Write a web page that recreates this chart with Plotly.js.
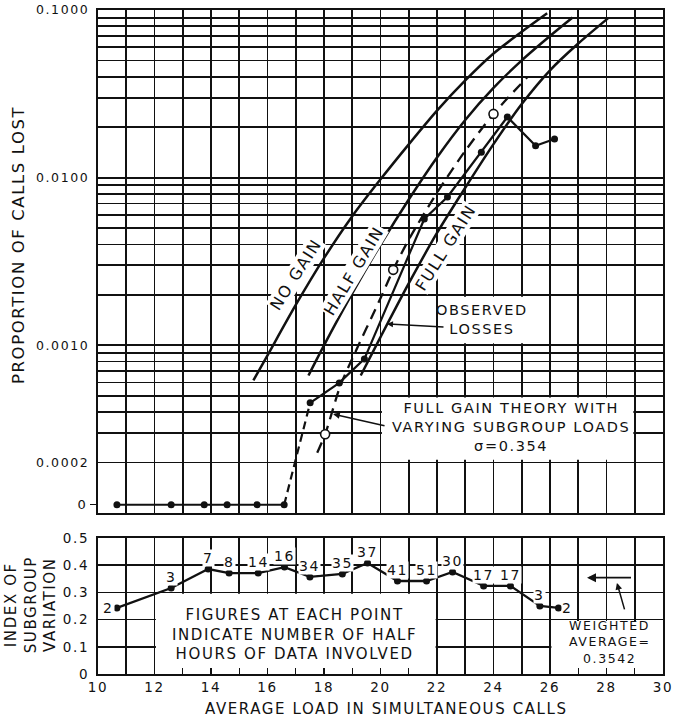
<!DOCTYPE html>
<html><head><meta charset="utf-8">
<script src="https://cdn.plot.ly/plotly-3.0.1.min.js"></script>
<style>
html,body{margin:0;padding:0;background:#fff;}
#chart{width:677px;height:717px;}
svg text{letter-spacing:1.6px;}
</style></head><body><div id="chart"></div>
<script>
// ---------- DATA ----------
// Top panel: proportion of calls lost vs average load (simultaneous calls)
const noGainLoad = [15.5, 16, 17, 18, 19, 20, 21, 22, 23, 24, 25, 25.9];
const noGainLost = [0.000617, 0.000871, 0.00174, 0.00331, 0.00589, 0.00977, 0.0158, 0.0251, 0.0380, 0.0550, 0.0741, 0.0955];
const halfGainLoad = [17.45, 18, 19, 20, 21, 22, 23, 24, 25, 26, 26.8];
const halfGainLost = [0.000661, 0.00100, 0.00204, 0.00398, 0.00741, 0.0132, 0.0221, 0.0343, 0.0501, 0.0700, 0.0902];
const fullGainLoad = [19.3, 20, 21, 22, 23, 24, 25, 26, 27, 28.05];
const fullGainLost = [0.000661, 0.00112, 0.00234, 0.00468, 0.00871, 0.01585, 0.0275, 0.0437, 0.0631, 0.0891];
// Full gain theory with varying subgroup loads (sigma = 0.354)
const varyLoad = [17.76, 18.04, 18.58, 19, 20, 20.45, 21, 22, 23, 24, 25.2];
const varyLost = [0.000229, 0.000295, 0.000575, 0.000832, 0.00191, 0.00282, 0.00427, 0.00813, 0.01445, 0.0240, 0.0398];
const varyPtLoad = [18.04, 20.45, 24.0];
const varyPtLost = [0.000295, 0.00282, 0.0240];
// Observed losses
const obsLoad = [10.67, 12.59, 13.76, 14.57, 15.63, 16.59, 17.51, 18.54, 19.43, 21.55, 22.37, 23.57, 24.49, 25.49, 26.16];
const obsLost = [0, 0, 0, 0, 0, 0, 0.000454, 0.000597, 0.00083, 0.00567, 0.00767, 0.0142, 0.0230, 0.0155, 0.0170];
// Bottom panel: index of subgroup variation
const idxLoad = [10.67, 12.59, 13.9, 14.64, 15.67, 16.6, 17.5, 18.65, 19.54, 20.6, 21.63, 22.55, 23.65, 24.6, 25.64, 26.3];
const idxValue = [0.243, 0.316, 0.386, 0.371, 0.371, 0.393, 0.357, 0.368, 0.408, 0.342, 0.342, 0.375, 0.324, 0.324, 0.250, 0.243];
const halfHours = ['2', '3', '7', '8', '14', '16', '34', '35', '37', '41', '51', '30', '17', '17', '3', '2'];
const WEIGHTED_AVG = 0.3542;
// Tick labels
const loadTickVals = [10, 12, 14, 16, 18, 20, 22, 24, 26, 28, 30];
const lostTickVals = [0.1, 0.01, 0.001, 0.0002];
const lostTickText = ['0.1000', '0.0100', '0.0010', '0.0002'];
const idxTickVals = [0, 0.1, 0.2, 0.3, 0.4, 0.5];
const idxTickText = ['0', '0.1', '0.2', '0.3', '0.4', '0.5'];

// ---------- STYLE / LAYOUT ----------
const FONT = 'DejaVu Sans, Verdana, sans-serif';
const INK = '#111';
const ZERO_POS = 1.12e-4;        // where "0" is drawn on the log axis
const labelSide = ['left','above','above','above','above','above','above','above','above','above','above','above','above','above','above','right'];

// grid positions
const loadGrid = []; for (let v = 10; v <= 30; v++) loadGrid.push(v);
const loadText = loadGrid.map(v => loadTickVals.includes(v) ? String(v) : '');
const lostGrid = [];
[1e-4, 1e-3, 1e-2].forEach(d => { for (let m = 1; m <= 9; m++) lostGrid.push(+(m * d).toPrecision(3)); });
lostGrid.push(0.1);
const lostText = lostGrid.map(v => { const i = lostTickVals.findIndex(t => Math.abs(t - v) / v < 1e-6); return i >= 0 ? lostTickText[i] : ''; });

const zeroIdx = obsLost.map((v, i) => v === 0 ? i : -1).filter(i => i >= 0);
const nzIdx = obsLost.map((v, i) => v > 0 ? i : -1).filter(i => i >= 0);
const lastZero = zeroIdx[zeroIdx.length - 1], firstNz = nzIdx[0];

const curve = (x, y, extra) => Object.assign({type:'scatter', mode:'lines', x, y, xaxis:'x', yaxis:'y',
  line:{color:INK, width:2.5, shape:'spline', smoothing:0.8}, hoverinfo:'skip'}, extra || {});

const traces = [
  curve(noGainLoad, noGainLost),
  curve(halfGainLoad, halfGainLost),
  curve(fullGainLoad, fullGainLost),
  curve(varyLoad, varyLost, {line:{color:INK, width:2.3, dash:'11px,7px', shape:'spline', smoothing:0.8}}),
  {type:'scatter', mode:'markers', x:varyPtLoad, y:varyPtLost, xaxis:'x', yaxis:'y',
    marker:{size:9, color:'#fff', line:{color:INK, width:1.6}}},
  // observed: zero part
  {type:'scatter', mode:'lines+markers', x:zeroIdx.map(i => obsLoad[i]), y:zeroIdx.map(() => ZERO_POS), xaxis:'x', yaxis:'y2',
    line:{color:INK, width:2.2}, marker:{size:7, color:INK}},
  // observed: dashed rise from zero
  {type:'scatter', mode:'lines', x:[obsLoad[lastZero], obsLoad[firstNz]], y:[ZERO_POS, obsLost[firstNz]], xaxis:'x', yaxis:'y',
    line:{color:INK, width:2.2, dash:'8px,5px'}},
  // observed: non-zero part
  {type:'scatter', mode:'lines+markers', x:nzIdx.map(i => obsLoad[i]), y:nzIdx.map(i => obsLost[i]), xaxis:'x', yaxis:'y',
    line:{color:INK, width:2.2}, marker:{size:7, color:INK}},
  // bottom panel
  {type:'scatter', mode:'lines+markers', x:idxLoad, y:idxValue, xaxis:'x2', yaxis:'y3',
    line:{color:INK, width:2.3}, marker:{size:7, color:INK}}
];

const lg = Math.log10;
const ann = [
  {xref:'paper', yref:'paper', x:-0.1416, y:0.646, text:'PROPORTION OF CALLS LOST', textangle:-90, showarrow:false,
    font:{size:16.5}, xanchor:'center', yanchor:'middle'},
  {xref:'paper', yref:'paper', x:-0.118, y:0.104, text:'INDEX OF<br>SUBGROUP<br>VARIATION', textangle:-90, showarrow:false,
    font:{size:15}, xanchor:'center', yanchor:'middle'},
  {xref:'paper', yref:'paper', x:0.5115, y:-0.0525, text:'AVERAGE LOAD IN SIMULTANEOUS CALLS', showarrow:false,
    font:{size:15}, xanchor:'center', yanchor:'middle'},
  {xref:'x', yref:'y', x:17.01, y:lg(0.00263), text:'NO GAIN', textangle:-57.5, showarrow:false, font:{size:16}, bgcolor:'#fff', borderpad:0},
  {xref:'x', yref:'y', x:19.06, y:lg(0.00281), text:'HALF GAIN', textangle:-59, showarrow:false, font:{size:16}, bgcolor:'#fff', borderpad:0},
  {xref:'x', yref:'y', x:22.32, y:lg(0.00381), text:'FULL GAIN', textangle:-57.5, showarrow:false, font:{size:16}, bgcolor:'#fff', borderpad:0},
  {xref:'x', yref:'y', x:23.59, y:lg(0.00142), text:'OBSERVED<br>LOSSES', showarrow:false, font:{size:14.5}},
  {xref:'x', yref:'y', x:24.62, y:lg(0.000326), text:'FULL GAIN THEORY WITH<br>VARYING SUBGROUP LOADS<br>σ=0.354', showarrow:false, font:{size:14.5}},
  // leaders
  {xref:'x', yref:'y', x:20.23, y:lg(0.00134), ax:58, ay:3, text:'', showarrow:true, arrowhead:2, arrowsize:0.8, arrowwidth:1.5, arrowcolor:INK},
  {xref:'x', yref:'y', x:18.32, y:lg(0.000389), ax:53, ay:12, text:'', showarrow:true, arrowhead:2, arrowsize:0.9, arrowwidth:1.5, arrowcolor:INK},
  // bottom panel texts
  {xref:'x2', yref:'y3', x:16.97, y:0.147, text:'FIGURES AT EACH POINT<br>INDICATE NUMBER OF HALF<br>HOURS OF DATA INVOLVED', showarrow:false, font:{size:15}},
  {xref:'x2', yref:'y3', x:28.12, y:0.180, text:'WEIGHTED', showarrow:false, font:{size:12.5}},
  {xref:'x2', yref:'y3', x:28.12, y:0.1195, text:'AVERAGE=', showarrow:false, font:{size:12.5}},
  {xref:'x2', yref:'y3', x:28.1, y:0.0585, text:WEIGHTED_AVG.toFixed(4), showarrow:false, font:{size:12.5}},
  {xref:'x2', yref:'y3', x:27.31, y:WEIGHTED_AVG, ax:28.92, ay:WEIGHTED_AVG, axref:'x2', ayref:'y3', text:'', showarrow:true,
    arrowhead:2, arrowsize:1, arrowwidth:1.8, arrowcolor:INK},
  {xref:'x2', yref:'y3', x:28.37, y:0.335, ax:8, ay:28, text:'', showarrow:true, arrowhead:2, arrowsize:0.9, arrowwidth:1.5, arrowcolor:INK}
];
idxLoad.forEach((x, i) => {
  const s = labelSide[i];
  ann.push({xref:'x2', yref:'y3', x, y:idxValue[i], text:halfHours[i], showarrow:false, font:{size:14},
    bgcolor:'#fff', borderpad:0,
    xanchor: s === 'left' ? 'right' : s === 'right' ? 'left' : 'center',
    xshift: s === 'left' ? -2 : s === 'right' ? 3 : 0,
    yshift: s === 'above' ? 11 : 0});
});

const shapes = [
  {type:'rect', xref:'x', yref:'y', x0:20.05, x1:28.95, y0:0.000208, y1:0.000488, fillcolor:'#fff', line:{width:0}, layer:'between'},
  {type:'rect', xref:'x', yref:'y', x0:22.05, x1:25.95, y0:0.00103, y1:0.00195, fillcolor:'#fff', line:{width:0}, layer:'between'},
  {type:'rect', xref:'x2', yref:'y3', x0:12.05, x1:21.95, y0:0, y1:0.295, fillcolor:'#fff', line:{width:0}, layer:'between'},
  {type:'rect', xref:'x2', yref:'y3', x0:26.05, x1:30, y0:0, y1:0.195, fillcolor:'#fff', line:{width:0}, layer:'between'}
];

const axisBase = {showline:true, mirror:true, linecolor:INK, linewidth:2.2, gridcolor:INK, gridwidth:1.7, zeroline:false,
  tickfont:{size:13, color:INK}, fixedrange:true};

const layout = {
  width:677, height:717, paper_bgcolor:'#fff', plot_bgcolor:'#fff', showlegend:false, hovermode:false,
  margin:{l:98, r:14, t:10, b:43},
  font:{family:FONT, color:INK},
  xaxis:Object.assign({}, axisBase, {domain:[0,1], anchor:'y', range:[10,30], tickmode:'array', tickvals:loadGrid,
    ticktext:loadGrid.map(() => ''), showticklabels:false, ticks:''}),
  yaxis:Object.assign({}, axisBase, {domain:[0.2425,1], anchor:'x', type:'log', range:[-4,-1], tickmode:'array',
    tickvals:lostGrid, ticktext:lostText, ticks:'', ticklabelstandoff:4, tickfont:{size:12.5, color:INK}}),
  yaxis2:{overlaying:'y', anchor:'x', side:'left', type:'log', range:[-4,-1], tickmode:'array', tickvals:[ZERO_POS], ticktext:['0'],
    showgrid:false, zeroline:false, showline:false, ticks:'outside', ticklen:7, tickwidth:1.5, tickcolor:INK,
    tickfont:{size:13, color:INK}, ticklabelstandoff:0, fixedrange:true},
  xaxis2:Object.assign({}, axisBase, {domain:[0,1], anchor:'y3', range:[10,30], tickmode:'array', tickvals:loadGrid,
    ticktext:loadText, ticks:'inside', ticklen:6, tickwidth:1.4, tickcolor:INK, tickfont:{size:13.5, color:INK}}),
  yaxis3:Object.assign({}, axisBase, {domain:[0,0.2048], anchor:'x2', range:[0,0.5], tickmode:'array', tickvals:idxTickVals,
    ticktext:idxTickText, ticks:'', ticklabelstandoff:4, tickfont:{size:13.5, color:INK}}),
  annotations:ann.map(a => Object.assign({}, a, {font:Object.assign({family:FONT, color:INK, size:14}, a.font || {})})),
  shapes
};

Plotly.newPlot('chart', traces, layout, {staticPlot:true, displayModeBar:false});
</script>
</body></html>
